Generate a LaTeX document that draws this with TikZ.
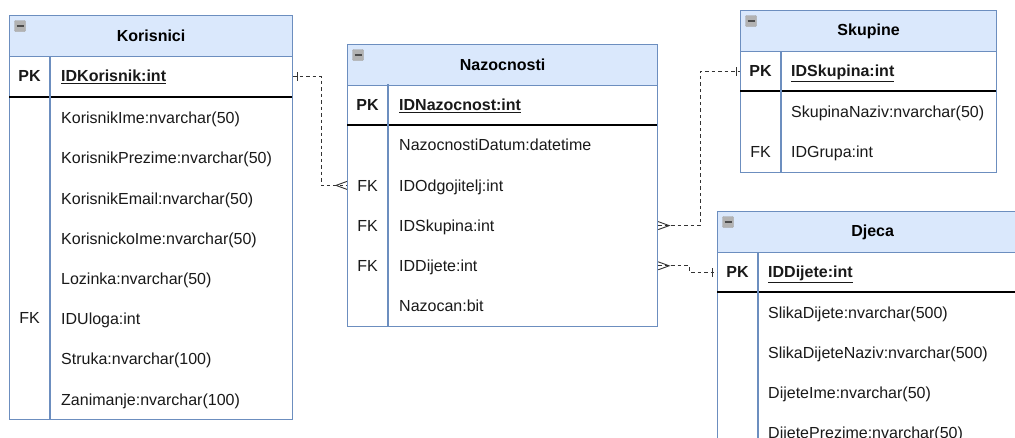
\documentclass[tikz,border=0pt]{standalone}
\usepackage{fontspec}
\setmainfont{Liberation Sans}
\usetikzlibrary{decorations.markings}
\definecolor{headfill}{HTML}{DAE8FC}
\definecolor{headline}{HTML}{6C8EBF}
\definecolor{reldash}{HTML}{333333}

\begin{document}
\begin{tikzpicture}[x=1pt,y=-1pt,font=\fontsize{16}{19}\selectfont]
  \tikzset{tablebox/.style={draw=headline,line width=1.2pt,fill=white,anchor=north west,inner sep=0pt}}
  \tikzset{headbox/.style={tablebox,fill=headfill,minimum height=41pt,font=\fontsize{16}{19}\selectfont\bfseries}}
  \tikzset{iconbox/.style={draw=black!35,fill=black!30,minimum size=11pt,inner sep=0pt,rounded corners=1pt,
      path picture={\draw[black!70,line width=1.5pt] ([xshift=2pt]path picture bounding box.west) -- ([xshift=-2pt]path picture bounding box.east);}}}
  \tikzset{keycol/.style={anchor=center,inner sep=0pt,text height=11.5pt,text depth=0pt,text=black!90}}
  \tikzset{pkkey/.style={keycol,font=\fontsize{16}{19}\selectfont\bfseries}}
  \tikzset{field/.style={anchor=west,inner sep=0pt,text height=11.5pt,text depth=0pt,text=black!90}}
  \tikzset{pkfield/.style={field,font=\fontsize{16}{19}\selectfont\bfseries}}
  \tikzset{keyline/.style={draw=black,line width=1.2pt}}
  \tikzset{colline/.style={draw=headline,line width=1.2pt}}
  \tikzset{relline/.style={draw=reldash,line width=0.9pt,dash pattern=on 3.5pt off 3pt}}
  \tikzset{onebar/.style={postaction={decorate,decoration={markings,
      mark=at position #1 with {\draw[solid,reldash,line width=0.9pt] (0,-4.5pt) -- (0,4.5pt);}}}}}
  \tikzset{crowstart/.style={postaction={decorate,decoration={markings,
      mark=at position 11pt with {\draw[solid,reldash,line width=0.9pt] (-11pt,4pt) -- (0,0) -- (-11pt,-4pt);}}}}}
  \tikzset{crowend/.style={postaction={decorate,decoration={markings,
      mark=at position -11pt with {\draw[solid,reldash,line width=0.9pt] (11pt,4pt) -- (0,0) -- (11pt,-4pt);}}}}}

  \useasboundingbox (0,0) rectangle (1015,437);
  \clip (0,0) rectangle (1015,437);

  % Korisnici
  \node[tablebox,minimum width=283pt,minimum height=404pt] (kor) at (9,15) {};
  \node[headbox,minimum width=283pt] (korHead) at (kor.north west) {Korisnici};
  \node[iconbox] (korIcon) at (20,26) {};
  \draw[keyline] (9,97) -- (292,97);
  \draw[colline] (50,56) -- (50,419);
  \node[pkkey] (korKeyPK) at (29.5,76) {PK};
  \node[pkfield] (korPK) at (61,76) {\underline{IDKorisnik:int}};
  \foreach \txt [count=\i] in {KorisnikIme:nvarchar(50),KorisnikPrezime:nvarchar(50),KorisnikEmail:nvarchar(50),
      KorisnickoIme:nvarchar(50),Lozinka:nvarchar(50),IDUloga:int,Struka:nvarchar(100),Zanimanje:nvarchar(100)}
    \node[field] (kor-\i) at (61,{77.8+40.2*\i}) {\txt};
  \node[keycol] (korKeyFK) at (29.5,318) {FK};

  % Nazocnosti
  \node[tablebox,minimum width=310pt,minimum height=282pt] (naz) at (347,44) {};
  \node[headbox,minimum width=310pt] (nazHead) at (naz.north west) {Nazocnosti};
  \node[iconbox] (nazIcon) at (358,55) {};
  \draw[keyline] (347,125) -- (657,125);
  \draw[colline] (388,84) -- (388,326);
  \node[pkkey] (nazKeyPK) at (367.5,105) {PK};
  \node[pkfield] (nazPK) at (399,105) {\underline{IDNazocnost:int}};
  \foreach \txt [count=\i] in {NazocnostiDatum:datetime,IDOdgojitelj:int,IDSkupina:int,IDDijete:int,Nazocan:bit}
    \node[field] (naz-\i) at (399,{105+40.2*\i}) {\txt};
  \foreach \k in {2,3,4}
    \node[keycol] (nazKey-\k) at (367.5,{105+40.2*\k}) {FK};

  % Skupine
  \node[tablebox,minimum width=256pt,minimum height=162pt] (sku) at (740,10) {};
  \node[headbox,minimum width=256pt] (skuHead) at (sku.north west) {Skupine};
  \node[iconbox] (skuIcon) at (751,21) {};
  \draw[keyline] (740,91) -- (996,91);
  \draw[colline] (781,51) -- (781,172);
  \node[pkkey] (skuKeyPK) at (760.5,71) {PK};
  \node[pkfield] (skuPK) at (791,71) {\underline{IDSkupina:int}};
  \foreach \txt [count=\i] in {SkupinaNaziv:nvarchar(50),IDGrupa:int}
    \node[field] (sku-\i) at (791,{71+40.4*\i}) {\txt};
  \node[keycol] (skuKeyFK) at (760.5,151.8) {FK};

  % Djeca
  \node[tablebox,minimum width=310pt,minimum height=280pt] (dje) at (717,211) {};
  \node[headbox,minimum width=310pt] (djeHead) at (dje.north west) {Djeca};
  \node[iconbox] (djeIcon) at (728,222) {};
  \draw[keyline] (717,292) -- (1027,292);
  \draw[colline] (758,252) -- (758,491);
  \node[pkkey] (djeKeyPK) at (737.5,272) {PK};
  \node[pkfield] (djePK) at (768,272) {\underline{IDDijete:int}};
  \foreach \txt [count=\i] in {SlikaDijete:nvarchar(500),SlikaDijeteNaziv:nvarchar(500),DijeteIme:nvarchar(50),DijetePrezime:nvarchar(50)}
    \node[field] (dje-\i) at (768,{272+40.3*\i}) {\txt};

  % veze
  \draw[relline,onebar=4pt,crowend] (korPK -| kor.east) -- ++(28,0) |- (naz-2 -| naz.west);
  \draw[relline,crowstart,onebar=-4pt] (naz-3 -| naz.east) -- ++(42,0) |- (skuPK -| sku.west);
  \draw[relline,crowstart,onebar=-5pt] (naz-4 -| naz.east) -- ++(31,0) |- (djePK -| dje.west);
\end{tikzpicture}
\end{document}
